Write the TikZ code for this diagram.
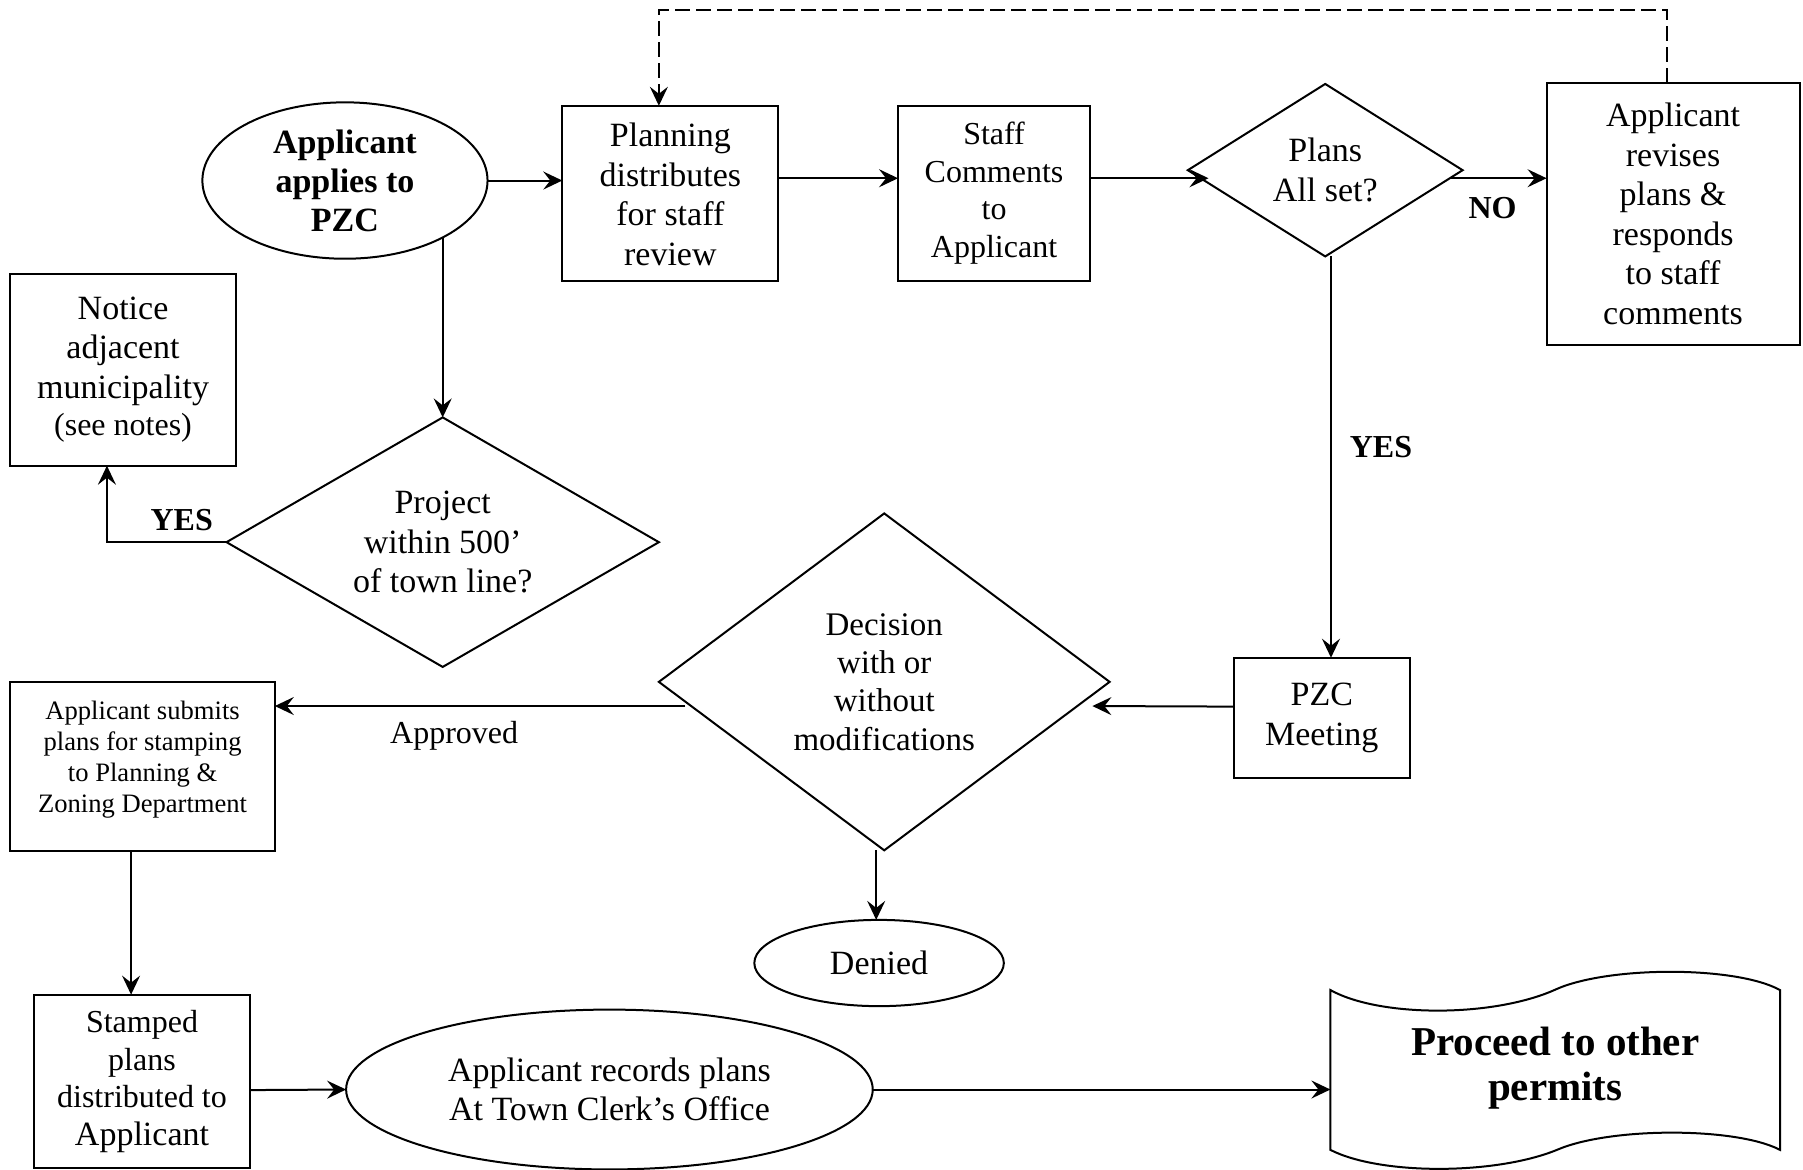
\documentclass[tikz,border=0pt]{standalone}
\usepackage{fontspec}
\setmainfont{Liberation Serif}
\usetikzlibrary{shapes.geometric,arrows.meta,calc}
\begin{document}
\begin{tikzpicture}[x=0.575pt,y=-0.575pt,
  every node/.style={inner sep=0pt, outer sep=0pt, align=center},
  base/.style={font=\fontsize{17}{19.8}\selectfont},
  sz/.style 2 args={minimum width=#1*0.575pt, minimum height=#2*0.575pt},
  box/.style={base, draw, line width=1pt, rectangle},
  oval/.style={base, draw, line width=1pt, ellipse},
  dia/.style={base, draw, line width=1pt, diamond},
  lbl/.style={font=\fontsize{16}{18}\selectfont\bfseries},
  arr/.style={line width=1pt, -{Stealth[length=9.5pt,width=9pt,inset=3.5pt]}},
  dashln/.style={dash pattern=on 7.5pt off 3pt}
]
\useasboundingbox (0,0) rectangle (1568,1017);

% nodes
\node[oval, sz={248}{136}, font=\fontsize{17}{19.5}\selectfont\bfseries] (A) at (300,157) {Applicant\\applies to\\PZC};
\node[box, sz={188}{152}] (Pd) at (583,168) {\\[-7pt]Planning\\distributes\\for staff\\review};
\node[box, sz={167}{152}, font=\fontsize{16}{18.7}\selectfont] (St) at (864.5,168) {Staff\\Comments\\to\\Applicant};
\node[dia, sz={239}{150}, shape aspect=1.59] (Pl) at (1152.5,148) {Plans\\All set?};
\node[box, sz={220}{228}] (R) at (1455,186) {Applicant\\revises\\plans \&\\responds\\to staff\\comments};
\node[box, sz={196}{167}] (N) at (107,321.5) {Notice\\adjacent\\municipality\\[-1pt]{\fontsize{16}{18}\selectfont(see notes)}};
\node[dia, sz={376}{217}, shape aspect=1.73] (P) at (385,471.5) {Project\\within 500’\\of town line?};
\node[box, sz={153}{105}] (M) at (1149.5,624.5) {PZC\\Meeting};
\node[dia, sz={392}{293}, shape aspect=1.34, font=\fontsize{16.5}{19.2}\selectfont] (D) at (769,593) {Decision\\with or\\without\\modifications};
\node[box, sz={230}{147}, font=\fontsize{13.3}{15.5}\selectfont] (Sub) at (124,666.5) {Applicant submits\\plans for stamping\\to Planning \&\\Zoning Department\\[-6pt]};
\node[box, sz={187}{151}, font=\fontsize{16}{18.8}\selectfont] (Stp) at (123.5,940.5) {Stamped\\plans\\distributed to\\{\fontsize{17}{19}\selectfont Applicant}};
\node[oval, sz={458}{139}] (Rec) at (530,947.5) {Applicant records plans\\At Town Clerk’s Office};
\node[oval, sz={217}{75}] (Den) at (764.5,837.5) {Denied};
\node[sz={391}{139}, font=\fontsize{20.5}{22.4}\selectfont\bfseries] (Proc) at (1352.5,929) {Proceed to other\\permits};

% document shape outline
\draw[line width=1pt] (1157,861) .. controls (1200,885) and (1300,885) .. (1354,860)
  .. controls (1400,840) and (1510,840) .. (1548,861) -- (1548,1000)
  .. controls (1510,980) and (1400,980) .. (1354,1000)
  .. controls (1300,1022) and (1200,1022) .. (1157,1000) -- cycle;

% labels
\node[lbl] (yes1) at (158,452) {YES};
\node[lbl] (yes2) at (1201,389) {YES};
\node[lbl] (no) at (1298,181) {NO};
\node[font=\fontsize{16}{18}\selectfont] (appr) at (395,640) {Approved};

% connectors
\draw[arr] (A.east) -- (A.east -| Pd.west);
\draw[arr] ($(Pd.east)+(0,-13)$) -- ($(St.west)+(0,-13)$);
\draw[arr] ($(St.east)+(0,-13)$) -- ($(Pl.west)+(18,7)$);
\draw[arr] ($(Pl.east)+(-10,7)$) -- ($(R.west)+(0,-31)$);
\draw[arr, dashln] ($(R.north)+(-5,0)$) -- ++(0,-63) -| ($(Pd.north)+(-10,0)$);
\draw[arr] (P.north |- A.-31) -- (P.north);
\draw[arr] (P.west) -| ($(N.south)+(-14,0)$);
\draw[arr] ($(Pl.south)+(5,0)$) coordinate (pp) -- (pp |- M.north);
\draw[arr] ($(M.west)+(0,-10)$) -- ($(D.east)+(-15,21)$);
\draw[arr] ($(D.west)+(23,21)$) coordinate (dw) -- (dw -| Sub.east);
\draw[arr] ($(D.south)+(-7,0)$) coordinate (dd) -- (dd |- Den.north);
\draw[arr] ($(Sub.south)+(-10,0)$) coordinate (ss) -- (ss |- Stp.north);
\draw[arr] ($(Stp.east)+(0,7.5)$) -- (Rec.west);
\draw[arr] (Rec.east) -- (Rec.east -| Proc.west);
\end{tikzpicture}
\end{document}
